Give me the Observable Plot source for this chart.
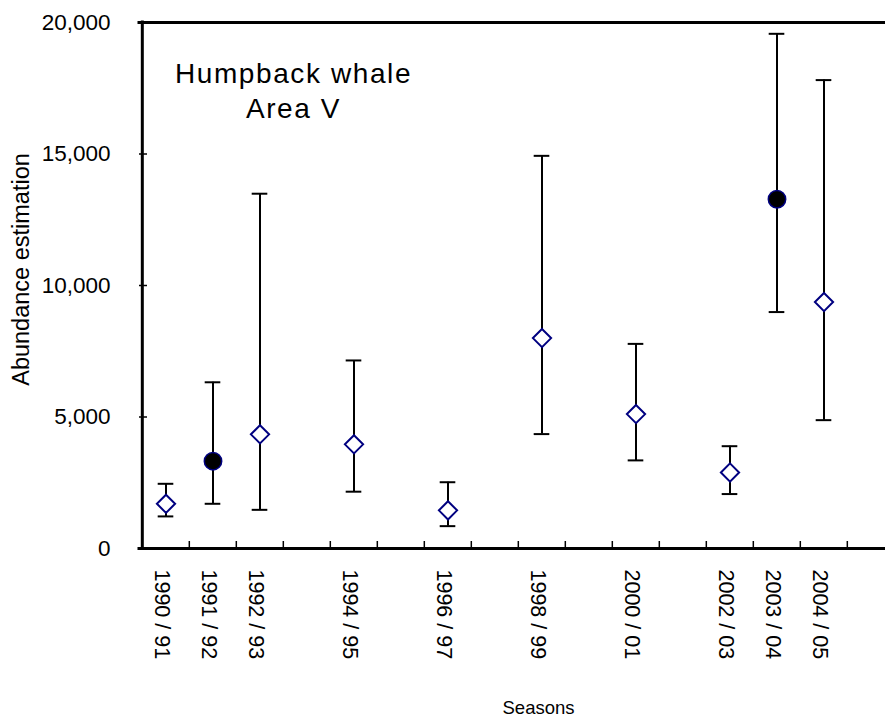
<!DOCTYPE html>
<html>
<head>
<meta charset="utf-8">
<script src="https://cdn.jsdelivr.net/npm/d3@7"></script>
<script src="https://cdn.jsdelivr.net/npm/@observablehq/plot@0.6"></script>
<style>
  html, body { margin: 0; padding: 0; background: #fff; }
  text[aria-label="chart-title"], g[aria-label="chart-title"] text { letter-spacing: 1.6px; }
</style>
</head>
<body>
<div id="chart"></div>
<script>
// Season categories on the x axis (every season in the span)
const allSeasons = ["1990/91","1991/92","1992/93","1993/94","1994/95","1995/96","1996/97","1997/98",
                    "1998/99","1999/00","2000/01","2001/02","2002/03","2003/04","2004/05","2005/06"];
// Surveyed seasons and their estimates
const seasons  = ["1990/91","1991/92","1992/93","1994/95","1996/97","1998/99","2000/01","2002/03","2003/04","2004/05"];
const estimate = [1700, 3320, 4340, 3960, 1450, 8000, 5110, 2890, 13280, 9370];
const lower    = [1220, 1700, 1470, 2160,  850, 4350, 3350, 2070,  8990, 4880];
const upper    = [2460, 6320, 13490, 7150, 2520, 14930, 7780, 3890, 19570, 17810];
const filled   = [false, true, false, false, false, false, false, false, true, false];
const yTicks   = [0, 5000, 10000, 15000, 20000];
const titleLines = ["Humpback whale", "Area V"];
const yLabel = "Abundance estimation";
const xLabel = "Seasons";

const data = seasons.map((s, i) => ({season: s, est: estimate[i], lo: lower[i], hi: upper[i], filled: filled[i]}));

const W = 885, H = 720;
const mL = 139, mT = 22, mB = 172;
const xRange = [139, 897];
const bw = (xRange[1] - xRange[0]) / allSeasons.length;
const font = "'Liberation Sans', Arial, sans-serif";

const chart = Plot.plot({
  width: W,
  height: H,
  marginLeft: mL,
  marginRight: 0,
  marginTop: mT,
  marginBottom: mB,
  style: {fontFamily: font, fontSize: "22px", color: "#000", background: "#fff"},
  x: {type: "band", domain: allSeasons, range: xRange, padding: 0},
  y: {domain: [0, 20000]},
  marks: [
    // y axis ticks (inward) and labels
    Plot.axisY({ticks: yTicks, tickSize: 8, dx: 8, tickPadding: 29, tickFormat: d3.format(","),
                label: null, fontSize: 22.5, strokeWidth: 1.5}),
    // x axis boundary ticks (inward)
    Plot.axisX({ticks: allSeasons.slice(1), tickSize: 7, dy: -7, dx: -bw / 2,
                tickFormat: () => "", label: null, strokeWidth: 1.5}),
    // frame lines: bottom, top, left
    Plot.ruleY([0, 20000], {strokeWidth: 3, strokeLinecap: "square"}),
    Plot.ruleX([allSeasons[0]], {x: d => d, dx: -bw / 2, y1: 0, y2: 20000, strokeWidth: 3, strokeLinecap: "square"}),
    // error bars
    Plot.ruleX(data, {x: "season", y1: "lo", y2: "hi", stroke: "#000", strokeWidth: 2}),
    Plot.tickY(data, {x: "season", y: "hi", inset: (bw - 16) / 2, stroke: "#000", strokeWidth: 2}),
    Plot.tickY(data, {x: "season", y: "lo", inset: (bw - 16) / 2, stroke: "#000", strokeWidth: 2}),
    // markers
    Plot.dot(data.filter(d => !d.filled), {x: "season", y: "est", symbol: "diamond2", r: 8.2,
             fill: "#fff", stroke: "#000080", strokeWidth: 2}),
    Plot.dot(data.filter(d => d.filled), {x: "season", y: "est", symbol: "circle", r: 8.7,
             fill: "#000", stroke: "#000080", strokeWidth: 1.5}),
    // x tick labels (rotated)
    Plot.text(data, {x: "season", frameAnchor: "bottom", text: d => d.season.replace("/", " / "),
              rotate: 90, textAnchor: "start", lineAnchor: "middle", dy: 21, dx: -4, fontSize: 21.5}),
    // title inside plot
    Plot.text([titleLines.join("\n")], {frameAnchor: "top-left", dx: 154, dy: 36, textAnchor: "middle",
              lineAnchor: "top", fontSize: 28, lineHeight: 1.25, ariaLabel: () => "chart-title"}),
    // axis titles
    Plot.text([yLabel], {frameAnchor: "left", rotate: -90, dx: -118, dy: -16, textAnchor: "middle",
              lineAnchor: "middle", fontSize: 23.5}),
    Plot.text([xLabel], {frameAnchor: "bottom", dx: 26, dy: 165, textAnchor: "middle",
              lineAnchor: "bottom", fontSize: 18.5})
  ]
});

document.getElementById("chart").appendChild(chart);
</script>
</body>
</html>
